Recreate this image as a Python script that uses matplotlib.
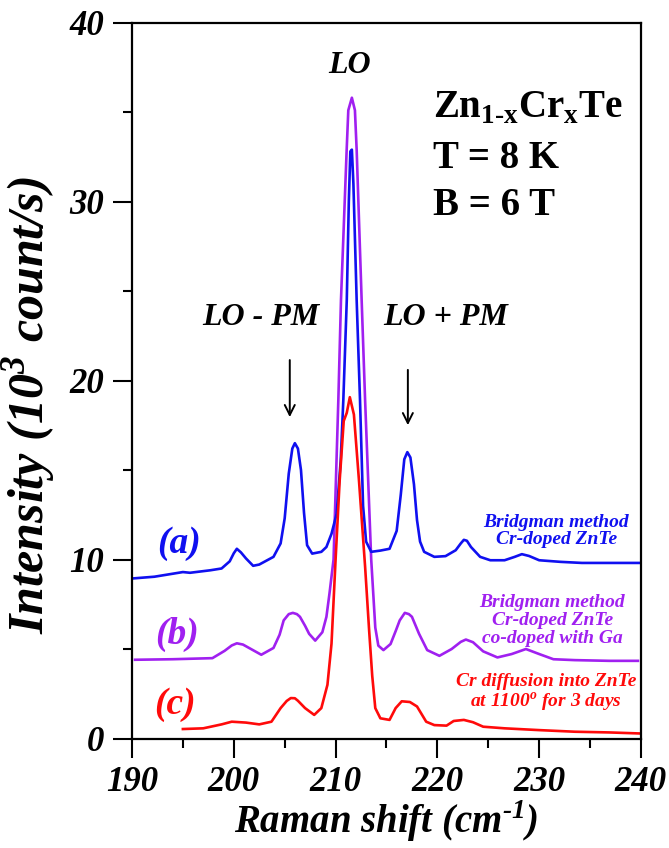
import numpy as np
import matplotlib
matplotlib.use("Agg")
import matplotlib.pyplot as plt

plt.rcParams["font.family"] = "Liberation Serif"
plt.rcParams["font.weight"] = "bold"
plt.rcParams["font.style"] = "italic"
plt.rcParams["axes.labelweight"] = "bold"

# (a) Bridgman, Cr-doped ZnTe
shift_a = [190, 192.2, 195, 195.7, 197.7, 198.8, 199.6, 200.0, 200.3, 200.7,
           201.2, 201.9, 202.5, 203.9, 204.6, 205.0, 205.4, 205.75, 206.0, 206.3,
           206.6, 206.9, 207.2, 207.7, 208.6, 209.1, 209.6, 210.1, 210.5, 210.76,
           211.1, 211.3, 211.45, 211.6, 211.75, 212.07, 212.4, 212.7, 213.0, 213.5,
           214.4, 215.3, 216.0, 216.4, 216.75, 217.05, 217.35, 217.7, 218.0, 218.3,
           218.7, 219.7, 220.8, 221.8, 222.3, 222.6, 222.9, 223.3, 224.2, 225.2,
           226.6, 227.6, 228.3, 229.0, 230.0, 232.1, 234.2, 236.9, 240]
int_a = [8.94, 9.04, 9.3, 9.26, 9.4, 9.5, 9.9, 10.35, 10.6, 10.4,
         10.06, 9.65, 9.72, 10.15, 10.9, 12.3, 14.8, 16.2, 16.5, 16.2,
         15.0, 12.6, 10.8, 10.33, 10.43, 10.7, 11.44, 12.55, 15.5, 18.9,
         24.5, 30.0, 32.8, 32.9, 31.0, 24.5, 18.9, 13.0, 11.0, 10.43,
         10.5, 10.6, 11.6, 13.6, 15.6, 16.0, 15.7, 14.2, 12.2, 11.0,
         10.43, 10.15, 10.19, 10.52, 10.9, 11.1, 11.05, 10.7, 10.15, 9.96,
         9.96, 10.15, 10.3, 10.2, 9.96, 9.87, 9.81, 9.81, 9.81]

# (b) Bridgman, Cr-doped ZnTe co-doped with Ga
shift_b = [190.3, 194.0, 197.9, 199.1, 199.8, 200.3, 200.9, 201.5, 202.7, 203.9,
           204.5, 204.9, 205.4, 205.8, 206.2, 206.5, 207.0, 207.4, 208.0, 208.7,
           209.1, 209.4, 209.8, 210.27, 210.53, 211.09, 211.25, 211.6, 211.9, 212.07,
           212.56, 212.9, 213.5, 213.9, 214.2, 214.7, 215.4, 215.9, 216.3, 216.8,
           217.2, 217.5, 218.2, 219.0, 220.2, 221.4, 222.3, 222.8, 223.5, 224.5,
           225.9, 227.3, 228.7, 230.0, 231.4, 233.5, 236.9, 239.7]
int_b = [4.4, 4.43, 4.49, 4.9, 5.2, 5.32, 5.25, 5.06, 4.68, 5.06,
         5.8, 6.6, 6.95, 7.02, 6.95, 6.8, 6.3, 5.85, 5.47, 5.94,
         6.8, 8.1, 10.0, 18.9, 24.5, 32.9, 35.1, 35.8, 35.1, 32.9,
         24.5, 18.9, 10.0, 6.2, 5.19, 4.94, 5.28, 6.0, 6.6, 7.02,
         6.95, 6.8, 5.85, 4.94, 4.62, 5.0, 5.4, 5.53, 5.38, 4.87,
         4.53, 4.72, 5.0, 4.72, 4.43, 4.38, 4.34, 4.34]

# (c) Cr diffusion into ZnTe
shift_c = [195.0, 197.0, 198.8, 199.8, 201.2, 202.5, 203.7, 204.6, 205.2, 205.6,
           206.0, 206.3, 207.0, 207.9, 208.6, 209.2, 209.6, 210.0, 210.4, 210.8,
           211.1, 211.4, 211.8, 212.3, 212.9, 213.3, 213.6, 213.9, 214.4, 215.3,
           215.9, 216.5, 217.3, 218.0, 218.9, 219.7, 220.9, 221.6, 222.6, 223.5,
           224.5, 226.6, 230.0, 233.5, 236.9, 240.0]
int_c = [0.53, 0.57, 0.79, 0.94, 0.89, 0.79, 0.94, 1.7, 2.1, 2.26,
         2.25, 2.11, 1.7, 1.32, 1.7, 3.0, 5.3, 10.0, 14.4, 17.74,
         18.2, 19.07, 18.1, 14.4, 9.6, 6.0, 3.5, 1.7, 1.13, 1.04,
         1.7, 2.08, 2.04, 1.79, 0.94, 0.75, 0.72, 0.98, 1.04, 0.91,
         0.66, 0.57, 0.47, 0.38, 0.34, 0.28]

blue = "#1010f0"
purple = "#a020f0"
red = "#ff0a0a"

fig = plt.figure(figsize=(6.69, 8.48), dpi=100)
ax = fig.add_axes([0.1973, 0.1291, 0.7608, 0.8443])

ax.plot(shift_b, int_b, color=purple, lw=1.9)
ax.plot(shift_a, int_a, color=blue, lw=1.9)
ax.plot(shift_c, int_c, color=red, lw=1.9)

ax.set_xlim(190, 240)
ax.set_ylim(0, 40)
ax.set_xticks(np.arange(190, 241, 10))
ax.set_xticks(np.arange(195, 240, 10), minor=True)
ax.set_yticks(np.arange(0, 41, 10))
ax.set_yticks(np.arange(5, 40, 10), minor=True)
ax.tick_params(which="major", direction="out", length=14, width=1.5,
               labelsize=25, pad=6)
ax.tick_params(which="minor", direction="out", length=6.5, width=1.5)
for lab in ax.get_xticklabels() + ax.get_yticklabels():
    lab.set_fontstyle("italic")
    lab.set_fontweight("bold")
for sp in ax.spines.values():
    sp.set_linewidth(1.6)

ax.set_xlabel("Raman shift (cm$^{\\mathregular{\u20101}}$)", fontsize=28,
              fontweight="bold", labelpad=-1)
ax.set_ylabel("Intensity (10$^{\\mathregular{3}}$ count/s)", fontsize=36,
              fontweight="bold")
ax.yaxis.set_label_coords(-0.145, 0.466)

# peak labels and arrows
ax.text(211.4, 37.6, "LO", fontsize=23, ha="center", va="center")
ax.text(202.7, 23.5, "LO - PM", fontsize=23, ha="center", va="center")
ax.text(220.8, 23.5, "LO + PM", fontsize=23, ha="center", va="center")
ax.annotate("", xy=(205.5, 17.8), xytext=(205.5, 21.3),
            arrowprops=dict(arrowstyle="->", color="black", lw=1.4,
                            mutation_scale=18))
ax.annotate("", xy=(217.1, 17.35), xytext=(217.1, 20.75),
            arrowprops=dict(arrowstyle="->", color="black", lw=1.4,
                            mutation_scale=18))

ax.text(219.6, 35.2, "Zn$_{\\mathregular{1\u2010x}}$Cr$_{\\mathregular{x}}$Te",
        fontsize=28, style="normal", ha="left", va="center")
ax.text(219.6, 32.4, "T = 8 K", fontsize=28, style="normal", ha="left", va="center")
ax.text(219.6, 29.8, "B = 6 T", fontsize=28, style="normal", ha="left", va="center")

# sample labels
ax.text(194.6, 10.9, "(a)", fontsize=27, color=blue, ha="center", va="center")
ax.text(194.4, 5.8, "(b)", fontsize=27, color=purple, ha="center", va="center")
ax.text(194.2, 1.9, "(c)", fontsize=27, color=red, ha="center", va="center")

ax.text(231.7, 11.6, "Bridgman method\nCr-doped ZnTe", fontsize=14, color=blue,
        ha="center", va="center", linespacing=1.05)
ax.text(231.3, 6.6, "Bridgman method\nCr-doped ZnTe\nco-doped with Ga", fontsize=14,
        color=purple, ha="center", va="center", linespacing=1.05)
ax.text(230.7, 2.5, "Cr diffusion into ZnTe\nat 1100$^{\\mathregular{o}}$ for 3 days",
        fontsize=14, color=red, ha="center", va="center", linespacing=1.05)

fig.savefig("out.png", dpi=100)
